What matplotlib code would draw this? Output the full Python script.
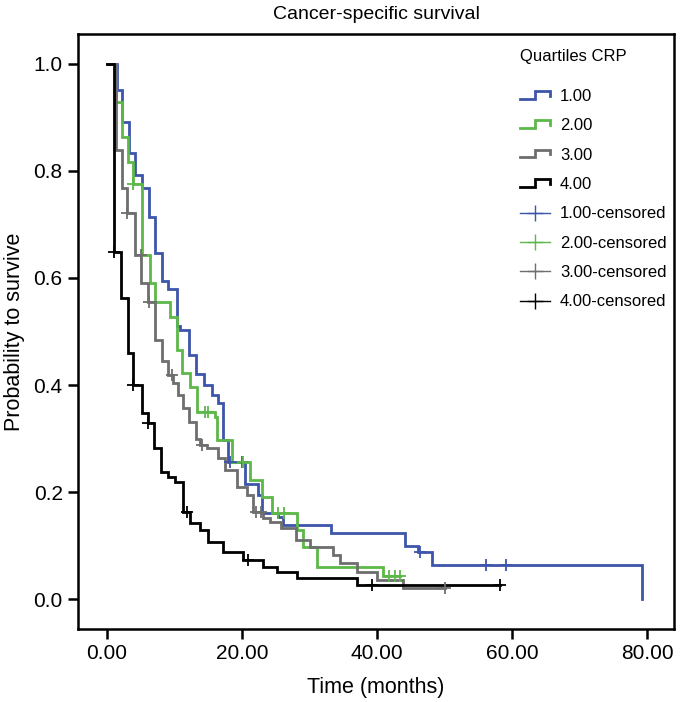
import numpy as np
import matplotlib
matplotlib.use("Agg")
import matplotlib.pyplot as plt
from matplotlib.lines import Line2D
from matplotlib.legend_handler import HandlerBase

plt.rcParams['font.family'] = ['Liberation Sans', 'DejaVu Sans']

# ---- data (months, survival probability) ----
groups = ["1.00", "2.00", "3.00", "4.00"]
colors = ["#3d55aa", "#5cb848", "#6e6e6e", "#000000"]

t1 = [0, 1.5, 2.2, 3.3, 4.1, 5.2, 6.2, 7.1, 8.1, 9.0, 10.4, 10.8, 12.2, 13.2, 14.3, 15.5, 16.4,
      17.2, 17.9, 20.4, 22.3, 23.0, 25.3, 26.0, 33.2, 44.1, 46.1, 48.1, 79.3]
s1 = [1.0, 0.951, 0.892, 0.834, 0.793, 0.768, 0.714, 0.647, 0.594, 0.579, 0.510, 0.503, 0.456,
      0.42, 0.40, 0.381, 0.367, 0.297, 0.256, 0.215, 0.194, 0.161, 0.153, 0.138, 0.123, 0.10,
      0.088, 0.064, 0.0]
c1 = [18.2, 20.0, 46.3, 56.1, 59.1]

t2 = [0, 1.4, 2.2, 3.1, 3.9, 5.2, 6.4, 7.1, 9.3, 10.3, 11.1, 12.3, 13.3, 16.0, 16.3, 18.5, 21.2,
      23.0, 24.5, 28.1, 29.0, 31.1, 40.9, 43.4]
s2 = [1.0, 0.929, 0.864, 0.817, 0.776, 0.643, 0.59, 0.555, 0.527, 0.465, 0.422, 0.396, 0.35,
      0.34, 0.297, 0.256, 0.222, 0.19, 0.161, 0.129, 0.097, 0.06, 0.043, 0.043]
c2 = [3.9, 14.5, 15.0, 20.1, 25.4, 26.2, 41.8, 42.6, 43.4]

t3 = [0, 1.3, 2.2, 3.0, 4.1, 5.1, 6.0, 7.1, 8.1, 9.0, 9.8, 10.5, 11.3, 12.2, 13.2, 13.8, 14.8,
      16.4, 17.5, 19.3, 20.7, 21.6, 23.1, 24.1, 25.8, 28.0, 30.1, 33.5, 34.5, 37.1, 40.0, 43.9, 50.1]
s3 = [1.0, 0.839, 0.768, 0.721, 0.643, 0.591, 0.555, 0.484, 0.445, 0.419, 0.404, 0.381, 0.357,
      0.33, 0.30, 0.288, 0.282, 0.264, 0.241, 0.209, 0.194, 0.163, 0.151, 0.144, 0.133, 0.11,
      0.097, 0.082, 0.067, 0.05, 0.036, 0.021, 0.021]
c3 = [3.0, 5.0, 6.2, 9.6, 14.0, 22.0, 22.8, 50.1]

t4 = [0, 1.0, 2.1, 3.1, 3.9, 5.2, 6.1, 7.0, 8.0, 9.0, 10.1, 11.3, 12.3, 13.8, 15.0, 17.2, 20.1,
      23.1, 25.2, 28.1, 37.0, 58.2]
s4 = [1.0, 0.649, 0.563, 0.46, 0.40, 0.348, 0.329, 0.282, 0.237, 0.228, 0.219, 0.163, 0.142,
      0.129, 0.107, 0.088, 0.073, 0.06, 0.05, 0.039, 0.026, 0.026]
c4 = [1.0, 3.9, 6.1, 11.9, 20.9, 39.3, 58.2]

times = [t1, t2, t3, t4]
survs = [s1, s2, s3, s4]
cens = [c1, c2, c3, c4]

title = "Cancer-specific survival"
xlabel = "Time (months)"
ylabel = "Probability to survive"
legend_title = "Quartiles CRP"
xticks = [0, 20, 40, 60, 80]
yticks = [0.0, 0.2, 0.4, 0.6, 0.8, 1.0]

# ---- figure ----
fig = plt.figure(figsize=(6.8, 7.02), dpi=100)
ax = fig.add_axes([78/680, 1 - 629/702, (674-78)/680, (629-34)/702])

step_handles = []
cens_handles = []
for i in range(4):
    t = np.array(times[i]); s = np.array(survs[i])
    ln, = ax.step(t, s, where='post', color=colors[i], lw=2.0, solid_joinstyle='miter',
                  zorder=2 + i * 0.1)
    step_handles.append(ln)
    c = np.array(cens[i])
    idx = np.searchsorted(t, c, side='right') - 1
    ax.plot(c, s[idx], linestyle='none', marker='+', ms=8, mew=1.3, color=colors[i], zorder=3)
    cens_handles.append(Line2D([], [], color=colors[i], lw=1.0, marker='+', ms=11, mew=1.0))

ax.set_xlim(-4.3, 84.0)
ax.set_ylim(-0.056, 1.056)
ax.set_xticks(xticks)
ax.set_xticklabels([f"{v:.2f}" for v in xticks])
ax.set_yticks(yticks)
ax.set_yticklabels([f"{v:.1f}" for v in yticks])
for sp in ax.spines.values():
    sp.set_linewidth(1.8)
ax.tick_params(axis='both', direction='out', length=7, width=1.8, labelsize=15, pad=4)

ax.set_title(title, fontsize=14, pad=11)
ax.set_xlabel(xlabel, fontsize=15.5, labelpad=10)
ax.set_ylabel(ylabel, fontsize=15.5, labelpad=6)


class StepHandler(HandlerBase):
    def create_artists(self, legend, orig_handle, xdescent, ydescent, width, height, fontsize, trans):
        x0 = -xdescent
        y0 = -ydescent
        xs = [x0, x0 + 0.5 * width, x0 + 0.5 * width, x0 + width, x0 + width]
        ys = [y0 + 0.2 * height, y0 + 0.2 * height, y0 + 0.85 * height, y0 + 0.85 * height,
              y0 + 0.45 * height]
        line = Line2D(xs, ys, color=orig_handle.get_color(), lw=2.0, solid_joinstyle='miter')
        line.set_transform(trans)
        return [line]


handler_map = {h: StepHandler() for h in step_handles}
labels = groups + [g + "-censored" for g in groups]
leg = fig.legend(step_handles + cens_handles, labels, handler_map=handler_map,
                 loc='upper left', bbox_to_anchor=(520/680, 1 - 89/702),
                 frameon=False, fontsize=12, labelspacing=0.86, handlelength=1.8,
                 handletextpad=0.6, borderpad=0, borderaxespad=0, numpoints=1)
fig.text(520/680, 1 - 57/702, legend_title, fontsize=12, ha='left', va='center')

fig.savefig("out.png", dpi=100)
